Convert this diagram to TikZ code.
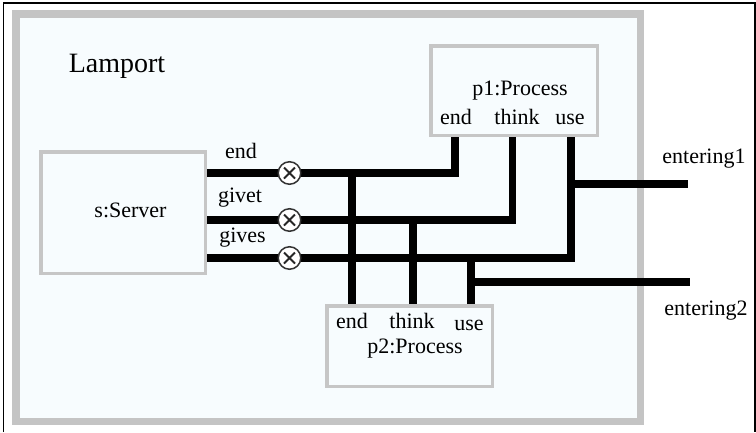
\documentclass[tikz,border=0pt]{standalone}
\usepackage{fontspec}
\setmainfont{Liberation Serif}
\definecolor{frame}{HTML}{C4C4C4}
\definecolor{pane}{HTML}{F7FCFE}
\definecolor{boxline}{HTML}{C6C6C6}
\begin{document}
\begin{tikzpicture}[x=1pt,y=-1pt,
  lbl/.style={font=\fontsize{22}{24}\selectfont, inner sep=0pt, anchor=base},
  part/.style={draw=boxline, line width=2.5pt, fill=pane, rectangle, inner sep=0pt},
  wire/.style={line width=7.5pt, line join=miter, line cap=butt, black},
  xcirc/.style={circle, draw=black!80, line width=1.5pt, fill=white,
    minimum size=22.5pt, inner sep=0pt,
    path picture={\draw[line width=2pt, black!85]
      ([shift={(-5.5,-5.5)}]path picture bounding box.center) -- ++(11,11)
      ([shift={(-5.5,5.5)}]path picture bounding box.center) -- ++(11,-11);}}]
\useasboundingbox (0,0) rectangle (756,432);

% outer page border
\draw[black, line width=1.2pt] (3.5,432) -- (3.5,3) -- (755,3) -- (755,432);

% composite frame
\draw[frame, line width=7.5pt, fill=pane] (15.75,13.75) rectangle (640.25,421.25);
\node[lbl, font=\fontsize{28}{30}\selectfont] (title) at (117,72) {Lamport};

% parts (placed first so wires can refer to them)
\node[part, minimum width=163.5pt, minimum height=120.5pt] (srv) at (123,212.5) {};
\node[part, minimum width=165.5pt, minimum height=88.5pt] (p1) at (514,90.5) {};
\node[part, minimum width=164.5pt, minimum height=79.5pt] (p2) at (409.5,346) {};

% port points
\coordinate (p1end)   at (455,134.75);
\coordinate (p1think) at (512.5,134.75);
\coordinate (p1use)   at (571,134.75);
\coordinate (p2end)   at (352,306.25);
\coordinate (p2think) at (413,306.25);
\coordinate (p2use)   at (471,306.25);
\coordinate (jEnd)    at (352,173);
\coordinate (jThink)  at (413,220);
\coordinate (jUse)    at (471,258);
\coordinate (jIn1)    at (571,184);
\coordinate (jIn2)    at (471,282);
\coordinate (in1)     at (688,184);
\coordinate (in2)     at (690,282);

% connectors
\draw[wire] (srv.east |- 0,173) -| (p1end);
\draw[wire] (srv.east |- 0,220) -| (p1think);
\draw[wire] (srv.east |- 0,258) -| (p1use);
\draw[wire] (jEnd) -- (p2end);
\draw[wire] (jThink) -- (p2think);
\draw[wire] (jUse) -- (p2use);
\draw[wire] (jIn1) -- (in1);
\draw[wire] (jIn2) -- (in2);

% redraw part outlines over wire ends
\draw[boxline, line width=2.5pt] (srv.north west) rectangle (srv.south east);
\draw[boxline, line width=2.5pt] (p1.north west) rectangle (p1.south east);
\draw[boxline, line width=2.5pt] (p2.north west) rectangle (p2.south east);

% lossy-channel markers
\node[xcirc] (x1) at (289.5,173) {};
\node[xcirc] (x2) at (289.5,220) {};
\node[xcirc] (x3) at (289.5,258) {};

% labels
\node[lbl] (lsrv) at (130.5,217) {s:Server};
\node[lbl] (lend) at (241,158) {end};
\node[lbl] (lgivet) at (240,202) {givet};
\node[lbl] (lgives) at (242.5,242) {gives};

\node[lbl] (lp1) at (520,95) {p1:Process};
\node[lbl] (lp1e) at (456,124) {end};
\node[lbl] (lp1t) at (517,124) {think};
\node[lbl] (lp1u) at (570,124) {use};

\node[lbl] (lp2) at (415,353) {p2:Process};
\node[lbl] (lp2e) at (352,328) {end};
\node[lbl] (lp2t) at (412,328) {think};
\node[lbl] (lp2u) at (469,330) {use};

\node[lbl] (lin1) at (704,163) {entering1};
\node[lbl] (lin2) at (706,315) {entering2};
\end{tikzpicture}
\end{document}
